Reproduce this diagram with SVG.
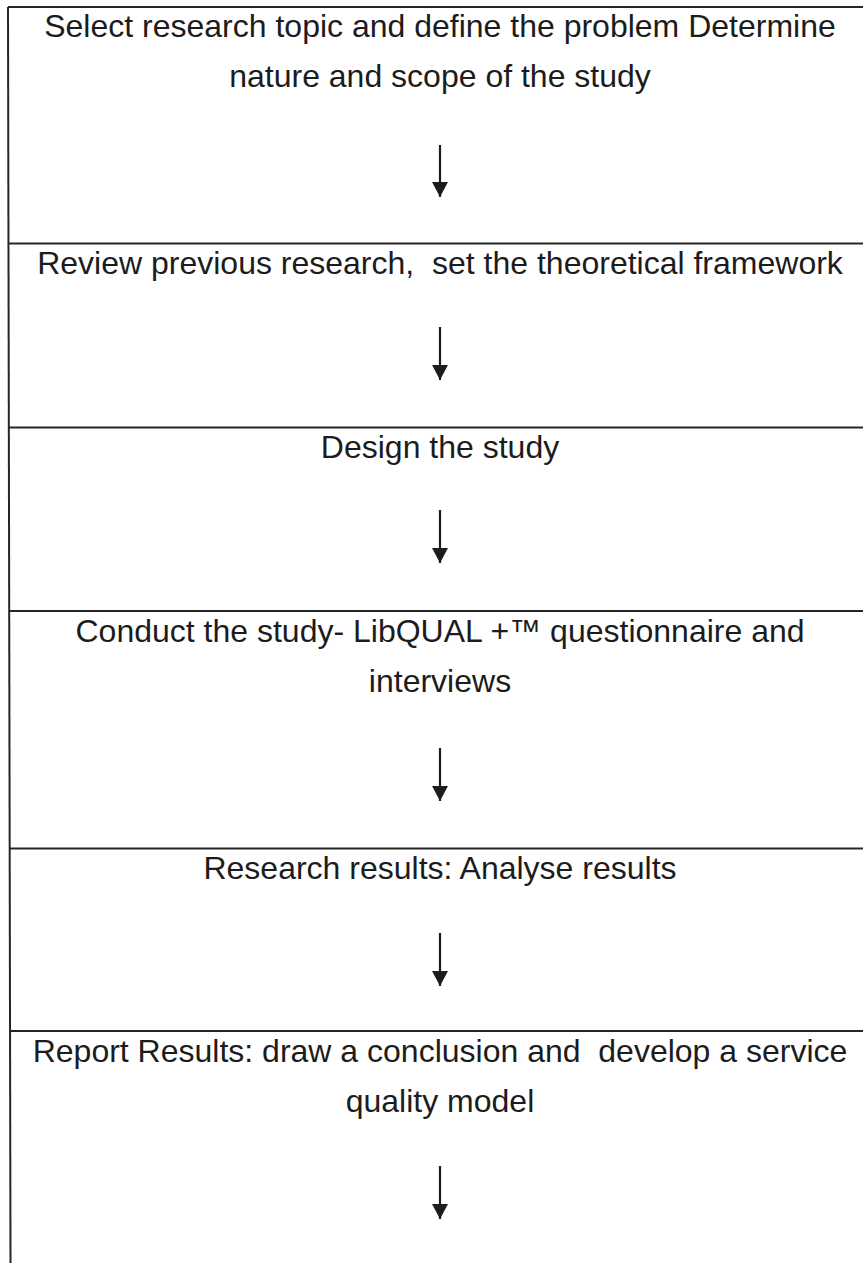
<svg xmlns="http://www.w3.org/2000/svg" width="863" height="1263" viewBox="0 0 863 1263">
  <style>
    .rule { stroke: #262626; stroke-width: 2; fill: none; }
    .label { font-family: "Liberation Sans", Arial, sans-serif; font-size: 32px; fill: #1c1c1c; text-anchor: middle; white-space: pre; }
    .shaft { stroke: #1c1c1c; stroke-width: 2.2; fill: none; }
  </style>
  <defs>
    <!-- triangular head drawn along +x so orient="auto" turns it to follow the line -->
    <marker id="head" viewBox="0 0 15 16" refX="15" refY="8" markerWidth="15" markerHeight="16" markerUnits="userSpaceOnUse" orient="auto">
      <path d="M0,0 L15,8 L0,16 Z" fill="#1c1c1c"/>
    </marker>
  </defs>
  <rect width="863" height="1263" fill="#ffffff"/>

  <!-- table frame: left edge and row rules -->
  <g id="frame">
    <line class="rule" x1="8" y1="7" x2="10.5" y2="1263"/>
    <line class="rule" x1="8" y1="7" x2="863" y2="7"/>
    <line class="rule" x1="8" y1="243.5" x2="863" y2="243.5"/>
    <line class="rule" x1="8.5" y1="427.5" x2="863" y2="427.5"/>
    <line class="rule" x1="9" y1="611" x2="863" y2="611"/>
    <line class="rule" x1="9" y1="848.5" x2="863" y2="848.5"/>
    <line class="rule" x1="9.5" y1="1031" x2="863" y2="1031"/>
  </g>

  <g id="step1">
    <text class="label" x="440" y="37">Select research topic and define the problem Determine</text>
    <text class="label" x="440" y="87">nature and scope of the study</text>
  </g>
  <g id="step2">
    <text class="label" x="440" y="274">Review previous research,  set the theoretical framework</text>
  </g>
  <g id="step3">
    <text class="label" x="440" y="458">Design the study</text>
  </g>
  <g id="step4">
    <text class="label" x="440" y="642">Conduct the study- LibQUAL +™ questionnaire and</text>
    <text class="label" x="440" y="692">interviews</text>
  </g>
  <g id="step5">
    <text class="label" x="440" y="879">Research results: Analyse results</text>
  </g>
  <g id="step6">
    <text class="label" x="440" y="1062">Report Results: draw a conclusion and  develop a service</text>
    <text class="label" x="440" y="1112">quality model</text>
  </g>

  <!-- downward arrows between steps -->
  <g id="connectors">
    <line class="shaft" x1="440" y1="145" x2="440" y2="197" marker-end="url(#head)"/>
    <line class="shaft" x1="440" y1="327" x2="440" y2="380" marker-end="url(#head)"/>
    <line class="shaft" x1="440" y1="510" x2="440" y2="563" marker-end="url(#head)"/>
    <line class="shaft" x1="440" y1="748" x2="440" y2="801" marker-end="url(#head)"/>
    <line class="shaft" x1="440" y1="933" x2="440" y2="986" marker-end="url(#head)"/>
    <line class="shaft" x1="440" y1="1166" x2="440" y2="1219" marker-end="url(#head)"/>
  </g>
</svg>
